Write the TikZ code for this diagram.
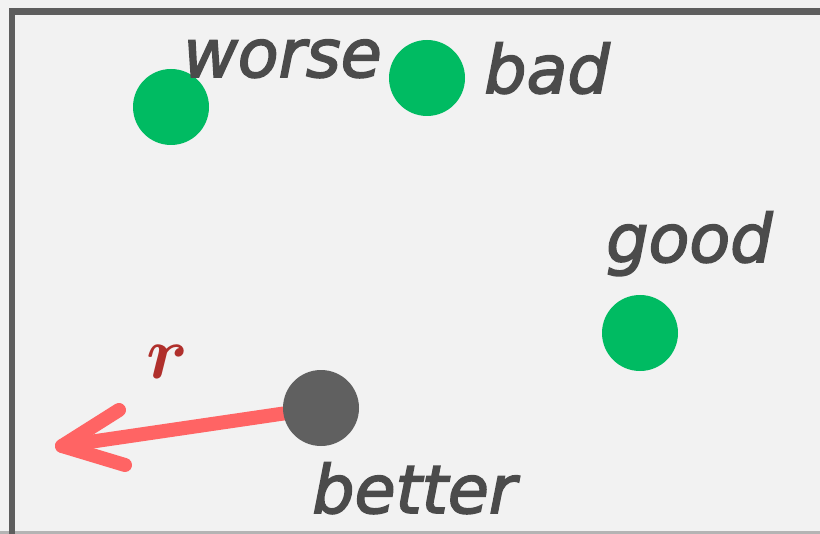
\RequirePackage{fix-cm}
\documentclass[tikz,border=0pt]{standalone}
\usepackage{fontspec}
\usepackage{bm}
\newfontfamily\labelfont[ItalicFeatures={FakeBold=2.5}]{DejaVu Sans}
\definecolor{bggray}{HTML}{F2F2F2}
\definecolor{framegray}{HTML}{5E5E5E}
\definecolor{basegray}{HTML}{B4B4B4}
\definecolor{dotgreen}{HTML}{00BB62}
\definecolor{dotgray}{HTML}{606060}
\definecolor{lblgray}{HTML}{4B4B4B}
\definecolor{arrowred}{HTML}{FF6464}
\definecolor{rred}{HTML}{B0302C}
\begin{document}
\begin{tikzpicture}[x=0.75pt,y=-0.75pt,
  dot/.style={circle,inner sep=0pt,minimum size=57pt},
  greendot/.style={dot,fill=dotgreen},
  graydot/.style={dot,fill=dotgray},
  lbl/.style={font=\labelfont\itshape\fontsize{50}{50}\selectfont,text=lblgray,inner sep=0pt,anchor=base west},
  redline/.style={draw=arrowred,line width=10.5pt,line cap=round,line join=round}]
\useasboundingbox (0,0) rectangle (820,534);
\fill[bggray] (0,0) rectangle (820,534);
\draw[basegray,line width=2.2pt] (0,532.5) -- (820,532.5);
\draw[framegray,line width=5pt] (12,534) -- (12,11.5) -- (820,11.5);
% dots
\node[greendot] (worsedot) at (171,107) {};
\node[greendot] (baddot) at (427,78) {};
\node[greendot] (gooddot) at (640,333) {};
% labels
\node[lbl] (worselbl) at (183,77) {worse};
\node[lbl] (badlbl) at (484,93) {bad};
\node[lbl] (goodlbl) at (606,262) {good};
\node[lbl] (betterlbl) at (312,513) {better};
% arrow
\coordinate (betterc) at (321,408);
\coordinate (tip) at (62,446);
\coordinate (barbA) at (119,410);
\coordinate (barbB) at (125,465);
\draw[redline] (betterc) -- (tip);
\draw[redline] (barbA) -- (tip) -- (barbB);
\node[graydot] (betterdot) at (betterc) {};
\node[inner sep=0pt,anchor=base west,text=rred,font=\fontsize{56}{56}\selectfont] (rlbl) at (146,378) {$\bm{r}$};
\end{tikzpicture}
\end{document}
